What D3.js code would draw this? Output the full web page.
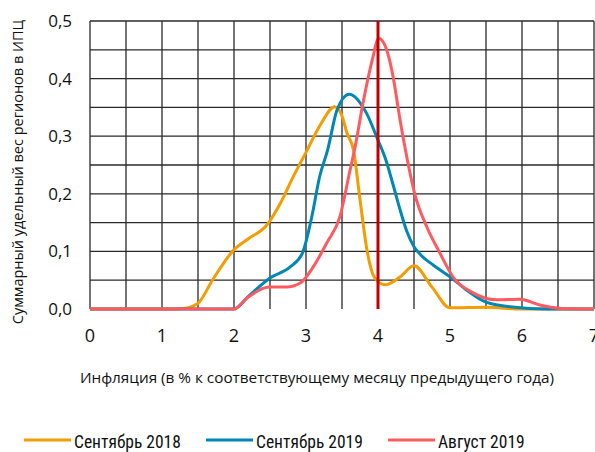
<!DOCTYPE html>
<html>
<head>
<meta charset="utf-8">
<script src="https://cdn.jsdelivr.net/npm/d3@7"></script>
<style>
  body { margin: 0; background: #fff; }
  svg { display: block; font-family: "Open Sans", "Noto Sans", sans-serif; }
  .narrow { font-family: "Liberation Sans Narrow", "Roboto Condensed", Roboto, sans-serif; }
</style>
</head>
<body>
<script>
// chart size
var width = 595;
var height = 452;

// data
var xTicks = [0, 1, 2, 3, 4, 5, 6, 7];
var yTicks = [0, 0.1, 0.2, 0.3, 0.4, 0.5];
var seriesNames = ["Сентябрь 2018", "Сентябрь 2019", "Август 2019"];

var sep2018X = [0, 1.0, 1.3, 1.5, 1.7, 2.0, 2.2, 2.45, 2.65, 2.82, 3.0, 3.2, 3.4, 3.5, 3.57, 3.66, 3.75, 3.85, 3.95, 4.1, 4.3, 4.5, 4.75, 5.0, 5.5, 6.0, 7.0];
var sep2018Y = [0, 0, 0.001, 0.01, 0.05, 0.103, 0.122, 0.145, 0.185, 0.229, 0.272, 0.32, 0.351, 0.335, 0.305, 0.276, 0.19, 0.1, 0.055, 0.042, 0.055, 0.075, 0.038, 0.002, 0.003, 0, 0];

var sep2019X = [0, 1.5, 2.0, 2.2, 2.5, 2.78, 2.95, 3.08, 3.19, 3.3, 3.43, 3.6, 3.84, 4.0, 4.1, 4.2, 4.3, 4.4, 4.5, 4.6, 4.77, 5.0, 5.23, 5.5, 5.9, 6.3, 7.0];
var sep2019Y = [0, 0, 0, 0.022, 0.054, 0.073, 0.097, 0.16, 0.23, 0.276, 0.345, 0.373, 0.34, 0.293, 0.262, 0.22, 0.175, 0.135, 0.108, 0.093, 0.076, 0.056, 0.033, 0.012, 0.003, 0, 0];

var aug2019X = [0, 1.5, 2.0, 2.18, 2.5, 2.73, 2.92, 3.1, 3.29, 3.47, 3.61, 3.68, 3.8, 3.92, 4.01, 4.12, 4.21, 4.3, 4.4, 4.51, 4.68, 4.86, 5.04, 5.32, 5.65, 5.97, 6.25, 6.55, 7.0];
var aug2019Y = [0, 0, 0, 0.019, 0.038, 0.038, 0.045, 0.073, 0.115, 0.16, 0.24, 0.28, 0.363, 0.432, 0.47, 0.45, 0.403, 0.333, 0.264, 0.2, 0.142, 0.097, 0.056, 0.028, 0.016, 0.017, 0.007, 0.001, 0];

var markerX = 4;

var colors = ["#f59c00", "#0088b5", "#ff5a5f"];

// plot area
var plotLeft = 90, plotRight = 594, plotTop = 21, plotBottom = 309;

var x = d3.scaleLinear().domain([0, 7]).range([plotLeft, plotRight]);
var y = d3.scaleLinear().domain([0, 0.5]).range([plotBottom, plotTop]);

var svg = d3.select("body").append("svg")
    .attr("width", width)
    .attr("height", height);

// grid: every 0.5 on x and every 0.05 on y
var grid = svg.append("g").attr("stroke", "#2a2a2a").attr("stroke-width", 1.3);
grid.selectAll(".vg")
    .data(d3.range(0, 7.01, 0.5))
    .enter().append("line")
    .attr("x1", function(d) { return x(d); })
    .attr("x2", function(d) { return x(d); })
    .attr("y1", plotTop).attr("y2", plotBottom);
grid.selectAll(".hg")
    .data(d3.range(0.05, 0.501, 0.05))
    .enter().append("line")
    .attr("y1", function(d) { return y(d); })
    .attr("y2", function(d) { return y(d); })
    .attr("x1", plotLeft).attr("x2", plotRight);

// tick labels
var fmt = function(d) { return d3.format(".1f")(d).replace(".", ","); };
svg.append("g").selectAll("text")
    .data(yTicks)
    .enter().append("text")
    .attr("x", 72)
    .attr("y", function(d) { return y(d) + 6; })
    .attr("text-anchor", "end")
    .attr("font-size", 17)
    .attr("fill", "#111")
    .text(fmt);

svg.append("g").selectAll("text")
    .data(xTicks)
    .enter().append("text")
    .attr("x", function(d) { return x(d); })
    .attr("y", 342)
    .attr("text-anchor", "middle")
    .attr("font-size", 18)
    .attr("fill", "#111")
    .text(function(d) { return d; });

// axis titles
svg.append("text")
    .attr("transform", "translate(23," + 172 + ") rotate(-90)")
    .attr("text-anchor", "middle")
    .attr("font-size", 14.5)
    .attr("fill", "#111")
    .text("Суммарный удельный вес регионов в ИПЦ");

svg.append("text")
    .attr("x", 317)
    .attr("y", 383)
    .attr("text-anchor", "middle")
    .attr("font-size", 15.3)
    .attr("fill", "#111")
    .text("Инфляция (в % к соответствующему месяцу предыдущего года)");

// series lines
var series = [
  d3.zip(sep2018X, sep2018Y),
  d3.zip(sep2019X, sep2019Y),
  d3.zip(aug2019X, aug2019Y)
];

var line = d3.line()
    .x(function(d) { return x(d[0]); })
    .y(function(d) { return y(d[1]); })
    .curve(d3.curveMonotoneX);

svg.append("g").selectAll("path")
    .data(series)
    .enter().append("path")
    .attr("d", line)
    .attr("fill", "none")
    .attr("stroke", function(d, i) { return colors[i]; })
    .attr("stroke-width", 3)
    .attr("stroke-linejoin", "round");

// vertical marker at 4
svg.append("line")
    .attr("x1", x(markerX)).attr("x2", x(markerX))
    .attr("y1", plotTop).attr("y2", plotBottom)
    .attr("stroke", "#c00000")
    .attr("stroke-width", 3);

// legend
var legendX = [24, 206, 388];
var legend = svg.append("g").selectAll("g")
    .data(seriesNames)
    .enter().append("g")
    .attr("transform", function(d, i) { return "translate(" + legendX[i] + ",440)"; });

legend.append("line")
    .attr("x1", 0).attr("x2", 47)
    .attr("stroke", function(d, i) { return colors[i]; })
    .attr("stroke-width", 3);

legend.append("text")
    .attr("class", "narrow")
    .attr("x", 50)
    .attr("y", 8)
    .attr("font-size", 17.5)
    .attr("fill", "#111")
    .text(function(d) { return d; });
</script>
</body>
</html>
